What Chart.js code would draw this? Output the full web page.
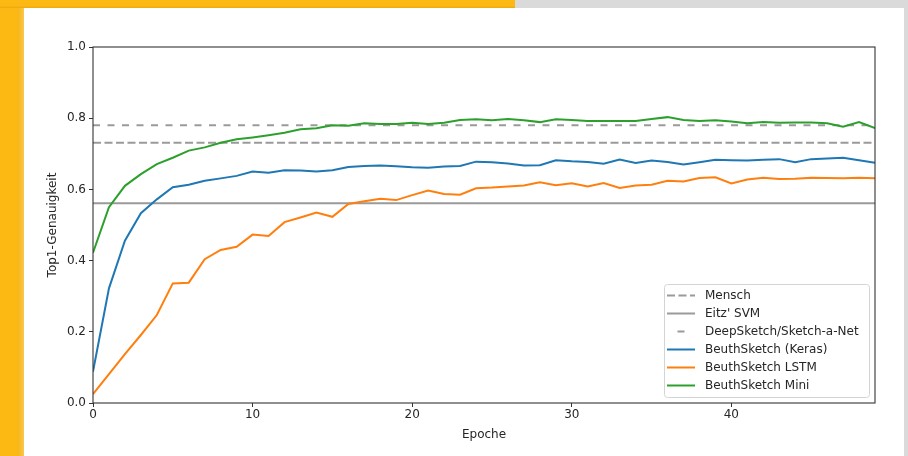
<!DOCTYPE html>
<html><head><meta charset="utf-8">
<script src="https://cdn.jsdelivr.net/npm/chart.js@4"></script>
<style>
html,body{margin:0;padding:0;width:908px;height:456px;overflow:hidden;background:#dadada;}
#yl{position:absolute;left:0;top:0;width:18px;height:456px;background:#fdb913;}
#yl2{position:absolute;left:18px;top:0;width:6px;height:456px;background:linear-gradient(to right,#f6b51c,#fbc84a);}
#top{position:absolute;left:0;top:0;width:515px;height:8px;background:linear-gradient(to bottom,#fdb913 70%,#eaa714);}
#card{position:absolute;left:24px;top:8px;width:880px;height:448px;background:#fff;}
canvas{display:block;}
</style></head><body>
<div id="yl"></div><div id="yl2"></div><div id="top"></div>
<div id="card"><canvas id="c" width="880" height="448"></canvas></div>
<script>
const epochs = [0,1,2,3,4,5,6,7,8,9,10,11,12,13,14,15,16,17,18,19,20,21,22,23,24,25,26,27,28,29,30,31,32,33,34,35,36,37,38,39,40,41,42,43,44,45,46,47,48,49];
const keras = [0.088,0.322,0.456,0.533,0.572,0.606,0.613,0.624,0.631,0.638,0.650,0.647,0.654,0.653,0.650,0.654,0.663,0.666,0.667,0.665,0.662,0.661,0.664,0.666,0.678,0.676,0.673,0.667,0.668,0.682,0.679,0.677,0.672,0.684,0.674,0.681,0.677,0.670,0.676,0.683,0.682,0.681,0.683,0.685,0.676,0.685,0.687,0.689,0.682,0.675];
const lstm = [0.025,0.081,0.137,0.191,0.247,0.336,0.338,0.404,0.430,0.439,0.473,0.469,0.508,0.521,0.535,0.523,0.559,0.567,0.574,0.570,0.584,0.597,0.587,0.585,0.603,0.605,0.608,0.611,0.620,0.612,0.617,0.608,0.618,0.604,0.611,0.613,0.624,0.622,0.632,0.634,0.617,0.628,0.633,0.629,0.630,0.633,0.632,0.631,0.633,0.631];
const mini = [0.422,0.550,0.610,0.643,0.671,0.689,0.709,0.718,0.731,0.741,0.746,0.752,0.759,0.769,0.772,0.780,0.779,0.786,0.784,0.784,0.787,0.784,0.787,0.795,0.797,0.794,0.798,0.794,0.789,0.797,0.795,0.792,0.792,0.792,0.792,0.798,0.803,0.795,0.792,0.794,0.791,0.786,0.789,0.787,0.788,0.788,0.786,0.776,0.789,0.772];
const refX = [0, 49];
const mensch = [0.731, 0.731];
const eitz = [0.561, 0.561];
const deepSketch = [0.780, 0.780];
const yTicks = [0, 0.2, 0.4, 0.6, 0.8, 1.0];
const xTicks = [0, 10, 20, 30, 40];

const pts = (xs, ys) => ys.map((v, i) => ({x: xs[i], y: v}));
const FONT = "'DejaVu Sans', sans-serif";
const TXT = '#262626';

const legendPlugin = {
  id: 'mplLegend',
  afterDraw(chart) {
    const ctx = chart.ctx;
    const x0 = 640, y0 = 276, w = 205, h = 113;
    ctx.save();
    ctx.beginPath();
    ctx.roundRect(x0 + 0.5, y0 + 0.5, w, h, 3);
    ctx.fillStyle = 'rgba(255,255,255,0.8)';
    ctx.fill();
    ctx.strokeStyle = '#d4d4d4';
    ctx.lineWidth = 1;
    ctx.stroke();
    ctx.font = '12px ' + FONT;
    ctx.textBaseline = 'middle';
    ctx.textAlign = 'left';
    chart.data.datasets.forEach((ds, i) => {
      const cy = y0 + 11.5 + i * 18;
      ctx.beginPath();
      ctx.strokeStyle = ds.borderColor;
      ctx.lineWidth = ds.borderWidth;
      ctx.setLineDash(ds.legendDash || ds.borderDash || []);
      ctx.lineDashOffset = ds.legendDashOffset || 0;
      ctx.moveTo(643, cy);
      ctx.lineTo(671, cy);
      ctx.stroke();
      ctx.setLineDash([]);
      ctx.fillStyle = TXT;
      ctx.fillText(ds.label, 681, cy + 0.5);
    });
    ctx.restore();
  }
};

const boxPlugin = {
  id: 'spines',
  afterDatasetsDraw(chart) {
    const {ctx, chartArea: a} = chart;
    ctx.save();
    ctx.strokeStyle = '#333';
    ctx.lineWidth = 1.1;
    ctx.strokeRect(a.left, a.top, a.right - a.left, a.bottom - a.top);
    ctx.restore();
  }
};

new Chart(document.getElementById('c'), {
  type: 'line',
  data: {
    datasets: [
      {label: 'Mensch', data: pts(refX, mensch), borderColor: '#9a9a9a', borderWidth: 2, borderDash: [8, 3.5], order: 6},
      {label: "Eitz' SVM", data: pts(refX, eitz), borderColor: '#9a9a9a', borderWidth: 2, order: 5},
      {label: 'DeepSketch/Sketch-a-Net', data: pts(refX, deepSketch), borderColor: '#9a9a9a', borderWidth: 2, borderDash: [7, 7.5], legendDash: [7, 30], legendDashOffset: -10.5, order: 4},
      {label: 'BeuthSketch (Keras)', data: pts(epochs, keras), borderColor: '#1f77b4', borderWidth: 2, order: 3},
      {label: 'BeuthSketch LSTM', data: pts(epochs, lstm), borderColor: '#ff7f0e', borderWidth: 2, order: 2},
      {label: 'BeuthSketch Mini', data: pts(epochs, mini), borderColor: '#2ca02c', borderWidth: 2, order: 1}
    ]
  },
  options: {
    responsive: false,
    animation: false,
    devicePixelRatio: 1,
    elements: {point: {radius: 0, hoverRadius: 0}, line: {tension: 0, borderCapStyle: 'butt'}},
    layout: {padding: {top: 39, right: 29, left: 0, bottom: 0}},
    plugins: {legend: {display: false}, tooltip: {enabled: false}},
    events: [],
    scales: {
      x: {
        type: 'linear', min: 0, max: 49,
        afterBuildTicks: s => { s.ticks = xTicks.map(v => ({value: v})); },
        afterFit: s => { s.height = 53; },
        grid: {drawOnChartArea: false, drawTicks: true, tickLength: 4, tickColor: '#333', tickWidth: 1},
        border: {display: false},
        ticks: {color: TXT, font: {family: FONT, size: 12}, padding: 1, maxRotation: 0, callback: v => String(v)},
        title: {display: true, text: 'Epoche', color: TXT, font: {family: FONT, size: 12}, padding: {top: 0, bottom: 14}}
      },
      y: {
        type: 'linear', min: 0, max: 1,
        afterBuildTicks: s => { s.ticks = yTicks.map(v => ({value: v})); },
        afterFit: s => { s.width = 69; },
        grid: {drawOnChartArea: false, drawTicks: true, tickLength: 4, tickColor: '#333', tickWidth: 1},
        border: {display: false},
        ticks: {color: TXT, font: {family: FONT, size: 12}, padding: 3, callback: v => Number(v).toFixed(1)},
        title: {display: true, text: 'Top1-Genauigkeit', color: TXT, font: {family: FONT, size: 12}, padding: {top: 22, bottom: 0}}
      }
    }
  },
  plugins: [boxPlugin, legendPlugin]
});
</script>
</body></html>
